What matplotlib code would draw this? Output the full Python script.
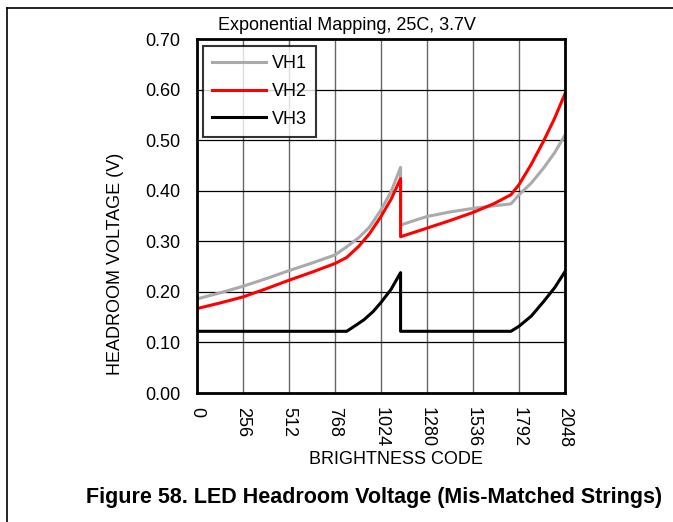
import matplotlib
matplotlib.use("Agg")
import matplotlib.pyplot as plt
from matplotlib.lines import Line2D

plt.rcParams['font.family'] = ['Liberation Sans', 'DejaVu Sans']

# Headroom voltage vs brightness code, one string per series
vh1_code = [0, 128, 256, 384, 512, 640, 768, 833, 900, 960, 1024, 1080, 1133,
            1133, 1200, 1280, 1408, 1536, 1650, 1747, 1792, 1860, 1927, 1990, 2048]
vh1_volt = [0.186, 0.198, 0.211, 0.226, 0.242, 0.257, 0.273, 0.289, 0.307, 0.328, 0.362, 0.398, 0.446,
            0.332, 0.340, 0.349, 0.358, 0.365, 0.370, 0.374, 0.392, 0.415, 0.444, 0.475, 0.510]

vh2_code = [0, 128, 256, 384, 512, 640, 768, 833, 900, 960, 1024, 1080, 1133,
            1133, 1280, 1408, 1536, 1650, 1747, 1792, 1860, 1927, 1990, 2048]
vh2_volt = [0.167, 0.178, 0.190, 0.206, 0.223, 0.239, 0.256, 0.268, 0.290, 0.315, 0.349, 0.383, 0.424,
            0.309, 0.326, 0.341, 0.357, 0.374, 0.392, 0.412, 0.452, 0.497, 0.543, 0.592]

vh3_code = [0, 833, 880, 930, 980, 1024, 1080, 1133,
            1133, 1747, 1792, 1860, 1927, 1990, 2048]
vh3_volt = [0.122, 0.122, 0.133, 0.145, 0.161, 0.179, 0.205, 0.238,
            0.122, 0.122, 0.132, 0.152, 0.180, 0.208, 0.240]

x_ticks = [0, 256, 512, 768, 1024, 1280, 1536, 1792, 2048]
y_ticks = [0.0, 0.1, 0.2, 0.3, 0.4, 0.5, 0.6, 0.7]

fig = plt.figure(figsize=(6.73, 5.22), dpi=100)
ax = fig.add_axes([197 / 673, 1 - 393 / 522, 368 / 673, 354 / 522])

ax.plot(vh1_code, vh1_volt, color='#aaaaaa', lw=2.2, label='VH1', zorder=3)
ax.plot(vh2_code, vh2_volt, color='#ff0000', lw=2.2, label='VH2', zorder=4)
ax.plot(vh3_code, vh3_volt, color='#000000', lw=2.2, label='VH3', zorder=5)

ax.set_xlim(0, 2048)
ax.set_ylim(0, 0.7)
ax.set_xticks(x_ticks)
ax.set_xticklabels([str(t) for t in x_ticks], rotation=-90, fontsize=13)
ax.set_yticks(y_ticks)
ax.set_yticklabels([f'{t:.2f}' for t in y_ticks], fontsize=13)
ax.tick_params(axis='both', length=0)
ax.tick_params(axis='x', pad=10)
ax.tick_params(axis='y', pad=12)

# grid: gray verticals, black horizontals
for t in x_ticks[1:-1]:
    ax.axvline(t, color='#666666', lw=1.0, zorder=1)
for t in y_ticks[1:-1]:
    ax.axhline(t, color='#000000', lw=0.9, zorder=1)

for s in ax.spines.values():
    s.set_linewidth(2.0)
    s.set_zorder(6)

ax.set_xlabel('BRIGHTNESS CODE', fontsize=13)
ax.xaxis.set_label_coords(0.54, -0.164)
ax.xaxis.label.set_va('top')

fig.text(115 / 673, 1 - 264 / 522, 'HEADROOM VOLTAGE (V)', rotation=90,
         ha='center', va='center', fontsize=13)
fig.text(347 / 673, 1 - 30 / 522, 'Exponential Mapping, 25C, 3.7V',
         ha='center', va='baseline', fontsize=13)
fig.text(86 / 673, 1 - 503 / 522, 'Figure 58. LED Headroom Voltage (Mis-Matched Strings)',
         ha='left', va='baseline', fontsize=15.5, fontweight='bold')

leg = ax.legend(loc='upper left', bbox_to_anchor=(0.016, 0.98), fontsize=13,
                frameon=True, fancybox=False, handlelength=3.0, handletextpad=0.3,
                labelspacing=0.6, borderpad=0.5, borderaxespad=0)
leg.get_frame().set_edgecolor('black')
leg.get_frame().set_linewidth(1.5)
leg.set_zorder(7)

# page frame lines
fig.add_artist(Line2D([7 / 673, 1], [1 - 8 / 522, 1 - 8 / 522], color='black', lw=1.2))
fig.add_artist(Line2D([7 / 673, 7 / 673], [0, 1 - 8 / 522], color='black', lw=1.2))

fig.savefig('out.png', dpi=100)
